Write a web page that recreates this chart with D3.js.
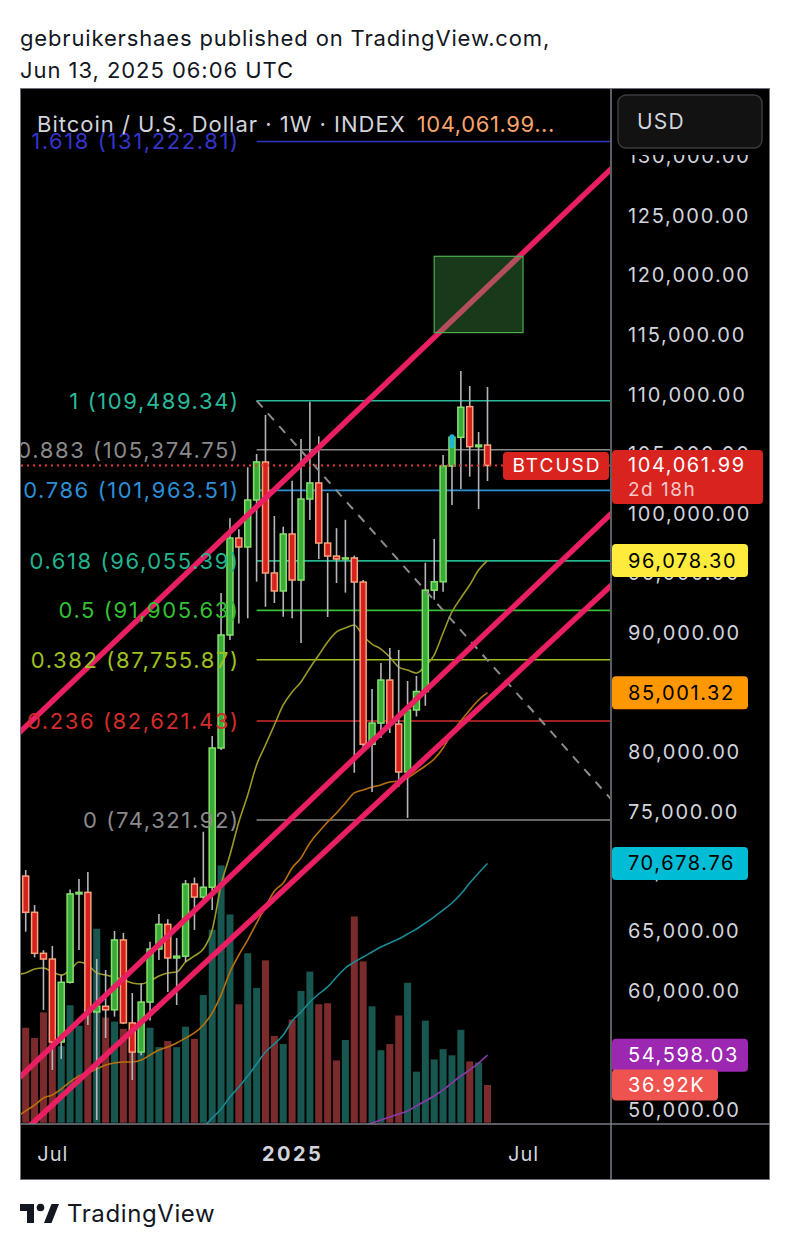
<!DOCTYPE html>
<html><head><meta charset="utf-8">
<script src="https://cdn.jsdelivr.net/npm/d3@7"></script>
<style>
html,body{margin:0;padding:0;background:#fff;}
svg{display:block;font-family:Inter,"Liberation Sans",sans-serif;}
</style></head><body>
<svg id="c" width="790" height="1250"></svg>
<script>
// ---------- DATA ----------
const dates = ["2024-06-03","2024-06-10","2024-06-17","2024-06-24","2024-07-01","2024-07-08","2024-07-15","2024-07-22","2024-07-29","2024-08-05","2024-08-12","2024-08-19","2024-08-26","2024-09-02","2024-09-09","2024-09-16","2024-09-23","2024-09-30","2024-10-07","2024-10-14","2024-10-21","2024-10-28","2024-11-04","2024-11-11","2024-11-18","2024-11-25","2024-12-02","2024-12-09","2024-12-16","2024-12-23","2024-12-30","2025-01-06","2025-01-13","2025-01-20","2025-01-27","2025-02-03","2025-02-10","2025-02-17","2025-02-24","2025-03-03","2025-03-10","2025-03-17","2025-03-24","2025-03-31","2025-04-07","2025-04-14","2025-04-21","2025-04-28","2025-05-05","2025-05-12","2025-05-19","2025-05-26","2025-06-02","2025-06-09"];
const opens  = [67750,69620,66580,63140,62660,55700,60710,68120,68250,58220,58700,58400,64260,57300,54860,59050,63500,65570,62750,62900,68950,67860,68680,80360,89840,97970,97220,101160,104350,95040,93530,98310,94450,101240,102590,97550,96460,96210,96300,94280,80670,82450,86060,82370,78350,83550,85100,93600,94300,104010,106420,108990,105630,105770];
const highs  = [71950,70130,67190,63400,63760,61330,68500,69370,69960,62660,61740,65010,64850,59810,60630,64100,66440,66000,64430,69290,69500,73340,81370,93360,99630,98700,103900,105020,108290,99820,98920,102780,106280,109410,106500,101750,98800,99500,96500,94450,85310,87490,88750,88580,85980,86400,95900,97890,104940,106600,111980,110720,106860,110640];
const lows   = [67600,64950,62800,58390,53360,54280,60600,63420,57130,49160,56040,57830,57200,52520,54600,57500,62580,59900,58810,62400,65100,67610,66770,80200,89420,90800,91240,94310,92210,92520,91370,91240,89170,99480,96200,91350,94200,93390,78290,80000,76670,81200,81620,77100,74490,83000,83900,92800,93470,100740,102080,103120,100410,102750];
const closes = [69620,66580,63140,62660,55700,60710,68120,68250,58220,58700,58400,64260,57300,54860,59050,63500,65570,62750,62900,68950,67860,68680,80360,89840,97970,97220,101160,104350,95040,93530,98310,94450,101240,102590,97550,96460,96210,96300,94280,80670,82450,86060,82370,78350,83550,85100,93600,94300,104010,106420,108940,105630,105770,104061.99];
const volumesK = [90,93,83,108,95,75,115,95,107,190,103,99,92,76,70,93,74,80,74,94,82,125,189,252,204,116,166,132,159,85,77,101,129,148,116,117,61,81,202,158,114,71,77,105,137,50,100,62,72,66,91,60,59,36.92];
const maOlive  = [61380,61490,61830,61910,61570,61320,61740,62410,62160,61490,61320,61150,60900,60650,60570,60820,61240,61490,61570,62410,62920,63500,65100,68870,71390,74150,76420,78940,80610,82290,83970,85060,85900,87070,88160,89250,90090,90430,90680,89750,89080,88660,87990,87150,86900,86650,87240,88160,90010,91770,92940,94030,95290,96078.30];
const maOrange = [49450,49920,50420,51010,51260,51760,52350,52850,53100,53440,53770,53940,54030,54030,54190,54610,55030,55280,55620,56040,56460,57130,58140,59650,61570,63000,64260,65680,67030,68370,69040,70300,71140,72390,73320,74150,74910,75750,76590,76840,77090,77260,77510,77590,77850,78350,78850,79440,80360,81620,82630,83550,84390,85001.32];
const maTeal   = [null,null,null,null,null,null,null,null,null,null,null,null,null,null,null,null,null,null,null,null,47800,48570,49330,50080,51090,51930,52850,53860,54860,55540,56290,57460,58220,59060,59730,60320,61150,61910,62410,62830,63250,63670,64010,64340,64760,65180,65680,66190,66770,67360,68120,69040,69880,70678.76];
const maPurple = [null,null,null,null,null,null,null,null,null,null,null,null,null,null,null,null,null,null,null,null,null,null,null,null,null,null,null,null,null,null,null,null,null,null,null,null,null,null,48400,48660,48910,49160,49410,49670,49920,50340,50760,51170,51680,52270,52850,53360,53940,54598.03];
const maColors = ["#9c9a26","#b9700c","#1b8a96","#8a3aa6"];
const maTagColors = ["#ffeb3b","#ff9800","#00bcd4","#9c27b0"];
const maTagText = ["#000","#000","#000","#fff"];

const fibRatios = ["1.618","1","0.883","0.786","0.618","0.5","0.382","0.236","0"];
const fibPrices = [131222.81,109489.34,105374.75,101963.51,96055.39,91905.63,87755.87,82621.43,74321.92];
const fibColors = ["#3434c8","#2bb99a","#8a8a8a","#2c8fd6","#22b48e","#34c034","#9fc01f","#d32c2c","#8a8a8a"];
const fibStartDate = "2024-12-09";
const fibEndDate = "2025-09-29";

const channelDates = ["2024-06-24","2025-06-09"];
const channelUpper  = [83580,119050];
const channelMiddle = [54650,90130];
const channelLower  = [49730,84360];

const boxDates = ["2025-04-28","2025-07-07"];
const boxPrices = [115200,121600];
const markerDates = ["2025-05-12"];

const priceTicks = [50000,55000,60000,65000,70000,75000,80000,85000,90000,95000,100000,105000,110000,115000,120000,125000,130000];
const timeTickDates = ["2024-07-01","2025-01-06","2025-07-07"];
const timeTickLabels = ["Jul","2025","Jul"];
const lastPrice = 104061.99;
const lastVolumeLabel = "36.92K";

// ---------- SETUP ----------
const svg = d3.select("#c");
const parse = d3.utcParse("%Y-%m-%d");
const PL = 21, PR = 610, PT = 88, PB = 1124;
const x = d3.scaleUtc().domain([new Date(Date.UTC(2024,5,6,7)), new Date(Date.UTC(2025,8,13,13,30))]).range([PL, PR]);
const y = d3.scaleLinear().domain([48825,135715]).range([PB, PT]);
const v = d3.scaleLinear().domain([0,260]).range([1122.7, 1122.7-260*1.021]);
const fmt = d3.format(",.2f");
const FONT = "Inter, 'Liberation Sans', sans-serif";

const bars = dates.map((d,i)=>({date:parse(d),o:opens[i],h:highs[i],l:lows[i],c:closes[i],vol:volumesK[i]}));

// header
svg.append("text").attr("x",20).attr("y",46).attr("font-size",22).attr("letter-spacing",0.85).attr("fill","#131722").text("gebruikershaes published on TradingView.com,");
svg.append("text").attr("x",20).attr("y",78).attr("font-size",22).attr("letter-spacing",0.95).attr("fill","#131722").text("Jun 13, 2025 06:06 UTC");

// frame
svg.append("rect").attr("x",20.5).attr("y",88.5).attr("width",749).attr("height",1091).attr("fill","#000").attr("stroke","#6f727b");

const defs = svg.append("defs");
defs.append("clipPath").attr("id","plot").append("rect").attr("x",PL).attr("y",PT+1).attr("width",PR-PL).attr("height",PB-PT-1);
const g = svg.append("g").attr("clip-path","url(#plot)");

// volume
g.append("g").selectAll("rect").data(bars).join("rect")
  .attr("x",d=>x(d.date)-3.5).attr("width",7)
  .attr("y",d=>v(d.vol)).attr("height",d=>v(0)-v(d.vol))
  .attr("fill",d=>d.c>=d.o?"#17574f":"#7b2b2b");

// fib lines
const fx0 = x(parse(fibStartDate));
g.append("g").selectAll("line").data(fibPrices).join("line")
  .attr("x1",fx0).attr("x2",PR).attr("y1",d=>y(d)).attr("y2",d=>y(d))
  .attr("stroke",(d,i)=>fibColors[i]).attr("stroke-width",1.6);

// moving averages
[maOlive,maOrange,maTeal,maPurple].forEach((arr,j)=>{
  const line = d3.line().defined(d=>d.val!=null).x(d=>x(d.date)).y(d=>y(d.val)).curve(d3.curveMonotoneX);
  g.append("path").datum(bars.map((b,i)=>({date:b.date,val:arr[i]})))
   .attr("d",line).attr("fill","none").attr("stroke",maColors[j]).attr("stroke-width",1.6);
});

// candles
const cg = g.append("g");
cg.selectAll("line").data(bars).join("line")
  .attr("x1",d=>x(d.date)).attr("x2",d=>x(d.date)).attr("y1",d=>y(d.h)).attr("y2",d=>y(d.l))
  .attr("stroke","#b3b5bb").attr("stroke-width",1.6);
cg.selectAll("rect").data(bars).join("rect")
  .attr("x",d=>x(d.date)-3).attr("width",6)
  .attr("y",d=>y(Math.max(d.o,d.c))).attr("height",d=>Math.max(1,Math.abs(y(d.o)-y(d.c))))
  .attr("fill",d=>d.c>=d.o?"#3aab3a":"#d6211f")
  .attr("stroke",d=>d.c>=d.o?"#84e26a":"#f7a47c").attr("stroke-width",1.5);

// marker
g.selectAll("rect.mk").data(bars.filter(b=>markerDates.includes(d3.utcFormat("%Y-%m-%d")(b.date)))).join("rect")
  .attr("class","mk").attr("x",d=>x(d.date)-2.5).attr("width",5).attr("y",d=>y(d.h)-1).attr("height",14).attr("rx",2.5)
  .attr("fill","#1fb6d6");

// dashed fib trend line
g.append("line").attr("x1",fx0).attr("y1",y(fibPrices[1])).attr("x2",x(parse(fibEndDate))).attr("y2",y(fibPrices[8]))
  .attr("stroke","#8b8b8b").attr("stroke-width",2).attr("stroke-dasharray","9 8");

// channel lines
[channelUpper,channelMiddle,channelLower].forEach(pr=>{
  const x1 = x(parse(channelDates[0])), x2 = x(parse(channelDates[1]));
  const y1 = y(pr[0]), y2 = y(pr[1]);
  const s = (y2-y1)/(x2-x1);
  g.append("line").attr("x1",0).attr("y1",y1+s*(0-x1)).attr("x2",800).attr("y2",y1+s*(800-x1))
   .attr("stroke","#e91e63").attr("stroke-width",5.5);
});

// target box
const bx0 = x(parse(boxDates[0])), bx1 = x(parse(boxDates[1]));
g.append("rect").attr("x",bx0).attr("width",bx1-bx0).attr("y",y(boxPrices[1])).attr("height",y(boxPrices[0])-y(boxPrices[1]))
  .attr("fill","rgba(76,175,80,0.33)").attr("stroke","#4caf50").attr("stroke-width",1.2);

// last price dotted line
g.append("line").attr("x1",PL).attr("x2",PR).attr("y1",y(lastPrice)).attr("y2",y(lastPrice))
  .attr("stroke","#e53935").attr("stroke-width",2).attr("stroke-dasharray","2 4");

// fib labels
g.append("g").selectAll("text").data(fibPrices).join("text")
  .attr("x",fx0-17).attr("y",d=>y(d)).attr("dy","0.36em").attr("text-anchor","end")
  .attr("font-size",22).attr("letter-spacing",1.6).attr("fill",(d,i)=>fibColors[i])
  .text((d,i)=>`${fibRatios[i]} (${fmt(d)})`);

// title
const t = svg.append("text").attr("x",37).attr("y",132).attr("font-size",22).attr("letter-spacing",1).attr("fill","#d1d4dc");
t.append("tspan").text("Bitcoin / U.S. Dollar · 1W · INDEX");
t.append("tspan").attr("dx",11).attr("fill","#f7a36b").attr("letter-spacing",0.6).text(fmt(lastPrice)+"...");

// separators
svg.append("line").attr("x1",611).attr("x2",611).attr("y1",88).attr("y2",1180).attr("stroke","#7b7e87").attr("stroke-width",1.5);
svg.append("line").attr("x1",20).attr("x2",770).attr("y1",1124).attr("y2",1124).attr("stroke","#7b7e87").attr("stroke-width",1.5);

// price axis
const ya = svg.append("g").attr("transform","translate(611,0)")
  .call(d3.axisRight(y).tickValues(priceTicks).tickSize(0).tickPadding(17).tickFormat(fmt));
ya.select(".domain").remove();
ya.selectAll("text").attr("font-size",20).attr("letter-spacing",1.7).attr("fill","#d1d4dc").attr("font-family",FONT);

// time axis
const xa = svg.append("g").attr("transform",`translate(0,${PB})`)
  .call(d3.axisBottom(x).tickValues(timeTickDates.map(parse)).tickSize(0).tickPadding(23).tickFormat((d,i)=>timeTickLabels[i]));
xa.select(".domain").remove();
xa.selectAll("text").attr("font-size",20).attr("fill","#d1d4dc").attr("font-family",FONT)
  .attr("font-weight",(d,i)=>timeTickLabels[i]==="2025"?"bold":"normal")
  .attr("letter-spacing",(d,i)=>timeTickLabels[i]==="2025"?2.4:1);

// USD box (with its black backdrop)
svg.append("rect").attr("x",612).attr("y",89).attr("width",157).attr("height",66).attr("fill","#000");
svg.append("rect").attr("x",618).attr("y",95).attr("width",144).attr("height",53).attr("rx",8).attr("fill","#121212").attr("stroke","#3b3b3b").attr("stroke-width",1.5);
svg.append("text").attr("x",637).attr("y",129).attr("font-size",21).attr("letter-spacing",1.2).attr("fill","#d1d4dc").text("USD");

// MA tags
const maLast = [maOlive,maOrange,maTeal,maPurple].map(a=>a[a.length-1]);
maLast.forEach((val,j)=>{
  const cy = y(val);
  svg.append("rect").attr("x",612).attr("y",cy-16.5).attr("width",136).attr("height",33).attr("rx",4).attr("fill",maTagColors[j]);
  svg.append("text").attr("x",628).attr("y",cy).attr("dy","0.35em").attr("font-size",20).attr("letter-spacing",1.6).attr("fill",maTagText[j]).text(fmt(val));
});
// volume tag
{
  const cy = v(volumesK[volumesK.length-1]);
  svg.append("rect").attr("x",612).attr("y",cy-15.5).attr("width",106).attr("height",31).attr("rx",4).attr("fill","#ef5350");
  svg.append("text").attr("x",628).attr("y",cy).attr("dy","0.35em").attr("font-size",20).attr("letter-spacing",1.6).attr("fill","#fff").text(lastVolumeLabel);
}
// last price tags
{
  const cy = y(lastPrice);
  svg.append("rect").attr("x",503).attr("y",cy-13.5).attr("width",106).attr("height",28).attr("rx",4).attr("fill","#d9231f");
  svg.append("text").attr("x",557).attr("y",cy).attr("dy","0.35em").attr("text-anchor","middle").attr("font-size",19).attr("letter-spacing",2).attr("fill","#fff").text("BTCUSD");
  svg.append("rect").attr("x",612).attr("y",cy-15.5).attr("width",151).attr("height",54).attr("rx",4).attr("fill","#d9231f");
  svg.append("text").attr("x",628).attr("y",cy).attr("dy","0.35em").attr("font-size",20).attr("letter-spacing",1.6).attr("fill","#fff").text(fmt(lastPrice));
  svg.append("text").attr("x",628).attr("y",cy+24).attr("dy","0.35em").attr("font-size",19).attr("letter-spacing",1.5).attr("fill","#f6c8c8").text("2d 18h");
}

// footer logo
const lg = svg.append("g").attr("fill","#131722");
lg.append("path").attr("d","M20,1204 H34 V1223 H27 V1211 H20 Z");
lg.append("circle").attr("cx",40.5).attr("cy",1207.5).attr("r",3.8);
lg.append("path").attr("d","M44,1223 L51.5,1204 H59 L51.5,1223 Z");
svg.append("text").attr("x",67).attr("y",1222).attr("font-size",24).attr("letter-spacing",0.6).attr("fill","#131722").text("TradingView");
</script>
</body></html>
